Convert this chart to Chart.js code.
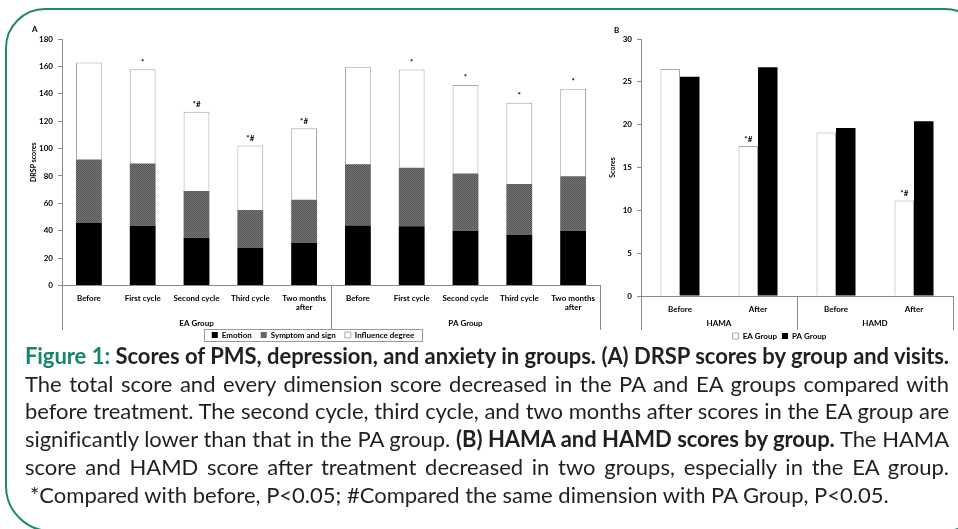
<!DOCTYPE html>
<html>
<head>
<meta charset="utf-8">
<script src="https://cdn.jsdelivr.net/npm/chart.js@4.4.1/dist/chart.umd.min.js"></script>
<style>
  body { margin: 0; background: #fff; width: 958px; height: 529px; overflow: hidden; position: relative; font-family: Lato, sans-serif; }
  #frame { position: absolute; left: 5px; top: 8px; width: 980px; height: 524px; border: 2px solid #1b8a6f; border-radius: 40px 40px 40px 46px; box-sizing: border-box; }
  #wrapA { position: absolute; left: 0; top: 0; }
  #wrapB { position: absolute; left: 600px; top: 0; }
  .tag { position: absolute; font: bold 8px Lato, sans-serif; color: #000; }
  #caption { position: absolute; left: 25px; top: 342px; width: 924px; font-size: 22px; line-height: 27.7px; color: #231f20; }
  #caption div { white-space: nowrap; text-align: justify; text-align-last: justify; }
  #caption div.last { text-align-last: left; padding-left: 5px; }
  #caption .fig { color: #14866d; }
</style>
</head>
<body>
<div id="frame"></div>
<div id="wrapA"><canvas id="drspChart" width="628" height="351"></canvas></div>
<div id="wrapB"><canvas id="hamChart" width="358" height="355"></canvas></div>
<div class="tag" style="left:32px;top:24px">A</div>
<div class="tag" style="left:614px;top:25px">B</div>
<div id="caption">
  <div><b><span class="fig">Figure 1:</span> Scores of PMS, depression, and anxiety in groups. (A) DRSP scores by group and visits.</b></div>
  <div>The total score and every dimension score decreased in the PA and EA groups compared with</div>
  <div>before treatment. The second cycle, third cycle, and two months after scores in the EA group are</div>
  <div>significantly lower than that in the PA group. <b>(B) HAMA and HAMD scores by group.</b> The HAMA</div>
  <div>score and HAMD score after treatment decreased in two groups, especially in the EA group.</div>
  <div class="last">*Compared with before, P&lt;0.05; #Compared the same dimension with PA Group, P&lt;0.05.</div>
</div>
<script>
// datos del grafico A (DRSP)
const visits = ['Before', 'First cycle', 'Second cycle', 'Third cycle', ['Two months', 'after']];
const drspGroups = ['EA Group', 'PA Group'];
const emotion   = [45.6, 43.4, 34.6, 27.3, 31.2, 43.9, 43.2, 40.0, 36.8, 40.0];
const symptom   = [46.4, 45.6, 34.4, 27.8, 31.5, 44.6, 42.8, 41.7, 37.3, 39.7];
const influence = [70.9, 69.0, 57.8, 47.1, 52.2, 71.2, 71.8, 64.8, 59.3, 63.9];
const drspMarks = ['', '*', '*#', '*#', '*#', '', '*', '*', '*', '*'];

// datos del grafico B (HAMA / HAMD)
const times = ['Before', 'After', 'Before', 'After'];
const scaleGroups = ['HAMA', 'HAMD'];
const eaScores = [26.5, 17.5, 19.1, 11.15];
const paScores = [25.6, 26.7, 19.6, 20.4];
const hamMarks = ['', '*#', '', '*#'];

Chart.defaults.font.family = 'Lato';
Chart.defaults.font.size = 8;
Chart.defaults.font.weight = 'bold';
Chart.defaults.color = '#000';

const axisGray = '#8a8a8a';

function dotPattern() {
    const c = document.createElement('canvas');
    c.width = 2; c.height = 2;
    const g = c.getContext('2d');
    g.fillStyle = '#767676'; g.fillRect(0, 0, 2, 2);
    g.fillStyle = '#545454'; g.fillRect(0, 0, 1, 1); g.fillRect(1, 1, 1, 1);
    return g.createPattern(c, 'repeat');
}

// etiquetas de grupo, lineas separadoras y asteriscos
const groupPlugin = {
    id: 'groups',
    afterDraw(chart, args, opts) {
        const ctx = chart.ctx;
        const { left, right, bottom } = chart.chartArea;
        const x = chart.scales.x;
        const nG = opts.names.length;
        const per = x.ticks.length / nG;
        const half = (x.getPixelForValue(1) - x.getPixelForValue(0)) / 2;
        ctx.save();
        ctx.strokeStyle = axisGray;
        ctx.lineWidth = 1;
        for (let g = 0; g <= nG; g++) {
            let px = g === 0 ? left : g === nG ? right : x.getPixelForValue(g * per) - half;
            px = Math.round(px) + 0.5;
            ctx.beginPath();
            ctx.moveTo(px, bottom);
            ctx.lineTo(px, opts.lineEnd);
            ctx.stroke();
        }
        ctx.font = 'bold 8px Lato';
        ctx.fillStyle = '#000';
        ctx.textAlign = 'center';
        ctx.textBaseline = 'middle';
        opts.names.forEach((name, g) => {
            const a = x.getPixelForValue(g * per) - half;
            const b = x.getPixelForValue((g + 1) * per - 1) + half;
            ctx.fillText(name, (a + b) / 2, opts.textY);
        });
        const meta = chart.getDatasetMeta(opts.markSet);
        opts.marks.forEach((m, i) => {
            if (!m) return;
            const bar = meta.data[i];
            ctx.fillText(m, bar.x, bar.y - 7);
        });
        if (opts.legendBox) {
            const boxes = chart.legend.legendHitBoxes;
            const x0 = Math.min(...boxes.map(b => b.left)) - 8;
            const x1 = Math.max(...boxes.map(b => b.left + b.width)) + 8;
            const yc = boxes[0].top + boxes[0].height / 2;
            ctx.strokeStyle = '#9a9a9a';
            ctx.strokeRect(Math.round(x0) + 0.5, Math.round(yc - 6) + 0.5, Math.round(x1 - x0), 12);
        }
        ctx.restore();
    }
};

// Grafico A
const ctxA = document.getElementById('drspChart').getContext('2d');
new Chart(ctxA, {
    type: 'bar',
    data: {
        // todas las etiquetas con dos lineas para alinear la primera
        labels: visits.concat(visits).map(v => Array.isArray(v) ? v : [v, '']),
        datasets: [
            { label: 'Emotion', data: emotion, backgroundColor: '#000', borderWidth: 0 },
            { label: 'Symptom and sign', data: symptom, backgroundColor: dotPattern(), borderWidth: 0 },
            { label: 'Influence degree', data: influence, backgroundColor: '#fff', borderColor: '#a6a6a6', borderWidth: 1 }
        ]
    },
    options: {
        responsive: false,
        animation: false,
        layout: { padding: { left: 26, right: 28, top: 39, bottom: 2 } },
        datasets: { bar: { categoryPercentage: 0.48, barPercentage: 1 } },
        scales: {
            x: {
                stacked: true,
                grid: { display: false },
                border: { color: axisGray },
                ticks: { autoSkip: false, maxRotation: 0, padding: 0 },
                afterFit: s => { s.height = 36.5; }
            },
            y: {
                stacked: true,
                min: 0, max: 180,
                ticks: { stepSize: 20, padding: 5 },
                grid: { drawOnChartArea: false, tickLength: 4, color: axisGray },
                border: { color: axisGray },
                title: { display: true, text: 'DRSP scores', font: { size: 7, weight: 'bold' }, padding: { top: 4, bottom: 0 } },
                afterFit: s => { s.width = 36; }
            }
        },
        plugins: {
            legend: {
                position: 'bottom',
                labels: { boxWidth: 6, boxHeight: 6, padding: 9, font: { size: 8, weight: 'bold' } }
            },
            tooltip: { enabled: false },
            groups: { names: drspGroups, marks: drspMarks, markSet: 2, textY: 323, lineEnd: 330, legendBox: true }
        }
    },
    plugins: [groupPlugin]
});

// Grafico B
const ctxB = document.getElementById('hamChart').getContext('2d');
new Chart(ctxB, {
    type: 'bar',
    data: {
        labels: times,
        datasets: [
            { label: 'EA Group', data: eaScores, backgroundColor: '#fff', borderColor: '#a6a6a6', borderWidth: 1 },
            { label: 'PA Group', data: paScores, backgroundColor: '#000', borderWidth: 0 }
        ]
    },
    options: {
        responsive: false,
        animation: false,
        layout: { padding: { left: 6, right: 5, top: 39, bottom: 5 } },
        datasets: { bar: { categoryPercentage: 0.5, barPercentage: 1 } },
        scales: {
            x: {
                grid: { display: false },
                border: { color: axisGray },
                ticks: { autoSkip: false, maxRotation: 0, padding: 1 },
                afterFit: s => { s.height = 31; }
            },
            y: {
                min: 0, max: 30,
                ticks: { stepSize: 5, padding: 5 },
                grid: { drawOnChartArea: false, tickLength: 4, color: axisGray },
                border: { color: axisGray },
                title: { display: true, text: 'Scores', font: { size: 7, weight: 'bold' }, padding: { top: 3, bottom: 0 } },
                afterFit: s => { s.width = 35; }
            }
        },
        plugins: {
            legend: {
                position: 'bottom',
                labels: { boxWidth: 6, boxHeight: 6, padding: 5, font: { size: 8, weight: 'bold' } }
            },
            tooltip: { enabled: false },
            groups: { names: scaleGroups, marks: hamMarks, markSet: 0, textY: 323, lineEnd: 330 }
        }
    },
    plugins: [groupPlugin]
});

// ajustar lineas del pie que no caben
document.querySelectorAll('#caption div').forEach(d => {
    if (d.scrollWidth > d.clientWidth) {
        const over = d.scrollWidth - d.clientWidth + 4;
        d.style.letterSpacing = (-over / d.textContent.length) + 'px';
    }
});
</script>
</body>
</html>
